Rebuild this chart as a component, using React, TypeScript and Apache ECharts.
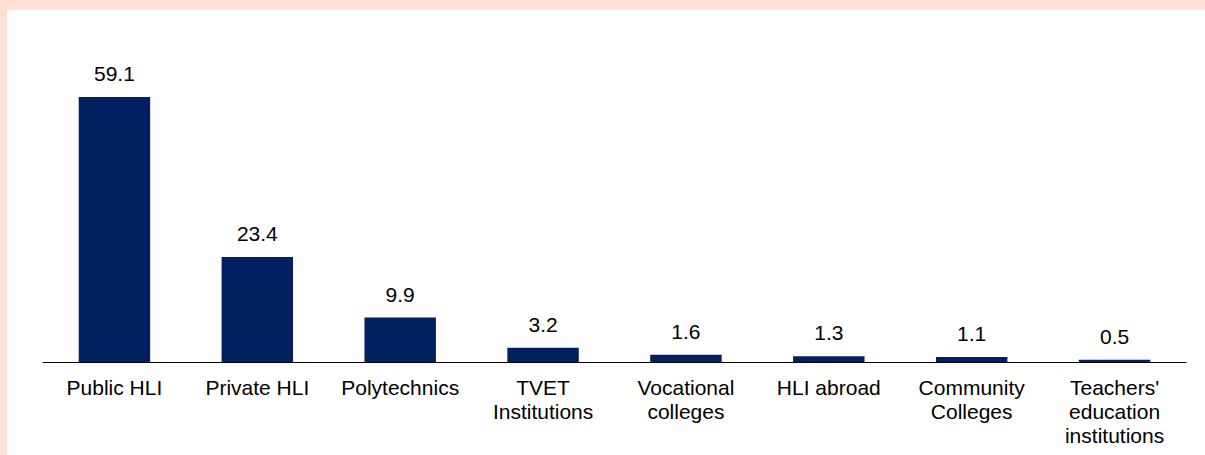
import React, { useEffect, useRef } from "react";
import * as echarts from "echarts";

const categories = [
  "Public HLI",
  "Private HLI",
  "Polytechnics",
  "TVET\nInstitutions",
  "Vocational\ncolleges",
  "HLI abroad",
  "Community\nColleges",
  "Teachers'\neducation\ninstitutions",
];
const values = [59.1, 23.4, 9.9, 3.2, 1.6, 1.3, 1.1, 0.5];

export default function App() {
  const ref = useRef<HTMLDivElement>(null);
  useEffect(() => {
    if (!ref.current) return;
    const chart = echarts.init(ref.current, null, { renderer: "svg" });
    chart.setOption({
      animation: false,
      backgroundColor: "#ffffff",
      grid: { left: 36, right: 19, top: 38, bottom: 93 },
      xAxis: {
        type: "category",
        data: categories,
        axisTick: { show: false },
        axisLine: { lineStyle: { color: "#000000", width: 1 } },
        axisLabel: {
          interval: 0,
          color: "#000000",
          fontFamily: "Liberation Sans, Arial, sans-serif",
          fontSize: 21,
          lineHeight: 24,
          margin: 13,
        },
      },
      yAxis: {
        type: "value",
        min: 0,
        max: 70,
        show: false,
        splitLine: { show: false },
      },
      series: [
        {
          type: "bar",
          data: values,
          barCategoryGap: "50%",
          itemStyle: { color: "#002060" },
          label: {
            show: true,
            position: "top",
            distance: 13,
            color: "#000000",
            fontFamily: "Liberation Sans, Arial, sans-serif",
            fontSize: 21,
            formatter: (p: any) => Number(p.value).toFixed(1),
          },
        },
      ],
    });
    return () => chart.dispose();
  }, []);
  return (
    <div
      style={{
        position: "fixed",
        left: 0,
        top: 0,
        width: 1205,
        height: 455,
        background: "#FEE0D4",
      }}
    >
      <div
        ref={ref}
        style={{
          position: "absolute",
          left: 7,
          top: 10,
          width: 1198,
          height: 445,
          background: "#ffffff",
        }}
      />
    </div>
  );
}
